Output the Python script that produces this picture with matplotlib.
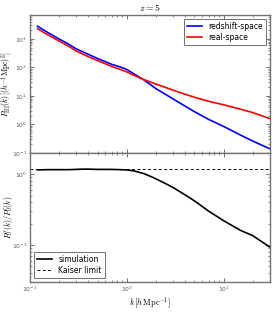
import numpy as np
import matplotlib
matplotlib.use("Agg")
import matplotlib.pyplot as plt

# data
k_top = [0.12, 0.15, 0.2, 0.25, 0.3, 0.4, 0.5, 0.6, 0.7, 0.85, 1.0, 1.2, 1.46, 1.7, 2.0, 2.5, 3.0, 4.0, 5.0, 7.0, 10.0, 15.0, 20.0, 30.0]
P_redshift = [2800, 1750, 1000, 660, 450, 290, 205, 160, 128, 105, 85, 58, 39, 27, 18, 11.5, 7.9, 4.4, 2.8, 1.5, 0.85, 0.42, 0.26, 0.14]
P_real = [2300, 1450, 850, 560, 380, 240, 174, 135, 108, 86, 70, 52, 39, 32, 26, 20, 16, 11.5, 9.0, 6.5, 4.9, 3.4, 2.6, 1.6]

k_ratio = [0.12, 0.15, 0.2, 0.25, 0.3, 0.35, 0.4, 0.5, 0.6, 0.7, 0.85, 1.0, 1.2, 1.5, 1.8, 2.0, 2.5, 3.0, 4.0, 5.0, 7.0, 10.0, 15.0, 20.0, 30.0]
ratio = [1.15, 1.16, 1.16, 1.16, 1.17, 1.18, 1.18, 1.17, 1.17, 1.17, 1.16, 1.15, 1.11, 1.02, 0.92, 0.86, 0.74, 0.65, 0.51, 0.42, 0.30, 0.22, 0.16, 0.135, 0.093]
kaiser = 1.19

plt.rcParams['font.family'] = ['DejaVu Sans']
plt.rcParams['mathtext.fontset'] = 'cm'

fig = plt.figure(figsize=(2.74, 3.16), dpi=100)
ax1 = fig.add_axes([0.109, 0.516, 0.876, 0.437])
ax2 = fig.add_axes([0.109, 0.108, 0.876, 0.408])

for ax in (ax1, ax2):
    ax.set_xscale('log')
    ax.set_yscale('log')
    ax.set_xlim(0.1, 30)
    ax.tick_params(which='both', direction='in', top=True, right=True, labelsize=4.3, colors='0.35', pad=2)
    ax.tick_params(which='major', length=3, width=0.6)
    ax.tick_params(which='minor', length=1.5, width=0.5)
    for s in ax.spines.values():
        s.set_color('0.45')
        s.set_linewidth(1.0)

ax1.plot(k_top, P_redshift, color='blue', lw=1.2, label='redshift-space')
ax1.plot(k_top, P_real, color='red', lw=1.2, label='real-space')
ax1.set_ylim(0.1, 7000)
ax1.tick_params(which='both', labelbottom=False)
ax1.set_ylabel(r'$P_{\rm HI}(k)\,[(h^{-1}{\rm Mpc})^3]$', fontsize=5.6)
ax1.yaxis.set_label_coords(-0.064, 0.5)
ax1.set_title(r'$z=5$', fontsize=7, pad=3)
leg1 = ax1.legend(loc='upper right', fontsize=5.5, frameon=True, fancybox=False,
                  handlelength=2.0, borderpad=0.4, labelspacing=0.3)
leg1.get_frame().set_edgecolor('0.2')
leg1.get_frame().set_linewidth(0.6)

ax2.plot(k_ratio, ratio, color='black', lw=1.2, label='simulation')
ax2.axhline(kaiser, color='black', lw=0.7, ls='--', dashes=(3, 2.5), label='Kaiser limit')
ax2.set_ylim(0.03, 2.0)
ax2.set_xlabel(r'$k\,[h\,{\rm Mpc}^{-1}]$', fontsize=6, labelpad=1)
ax2.set_ylabel(r'$P_0^s(k)/P_0^r(k)$', fontsize=5.6)
ax2.yaxis.set_label_coords(-0.064, 0.5)
leg2 = ax2.legend(loc='lower left', fontsize=5.5, frameon=True, fancybox=False,
                  handlelength=2.0, borderpad=0.4, labelspacing=0.3)
leg2.get_frame().set_edgecolor('0.2')
leg2.get_frame().set_linewidth(0.6)

fig.savefig('out.png', dpi=100)
